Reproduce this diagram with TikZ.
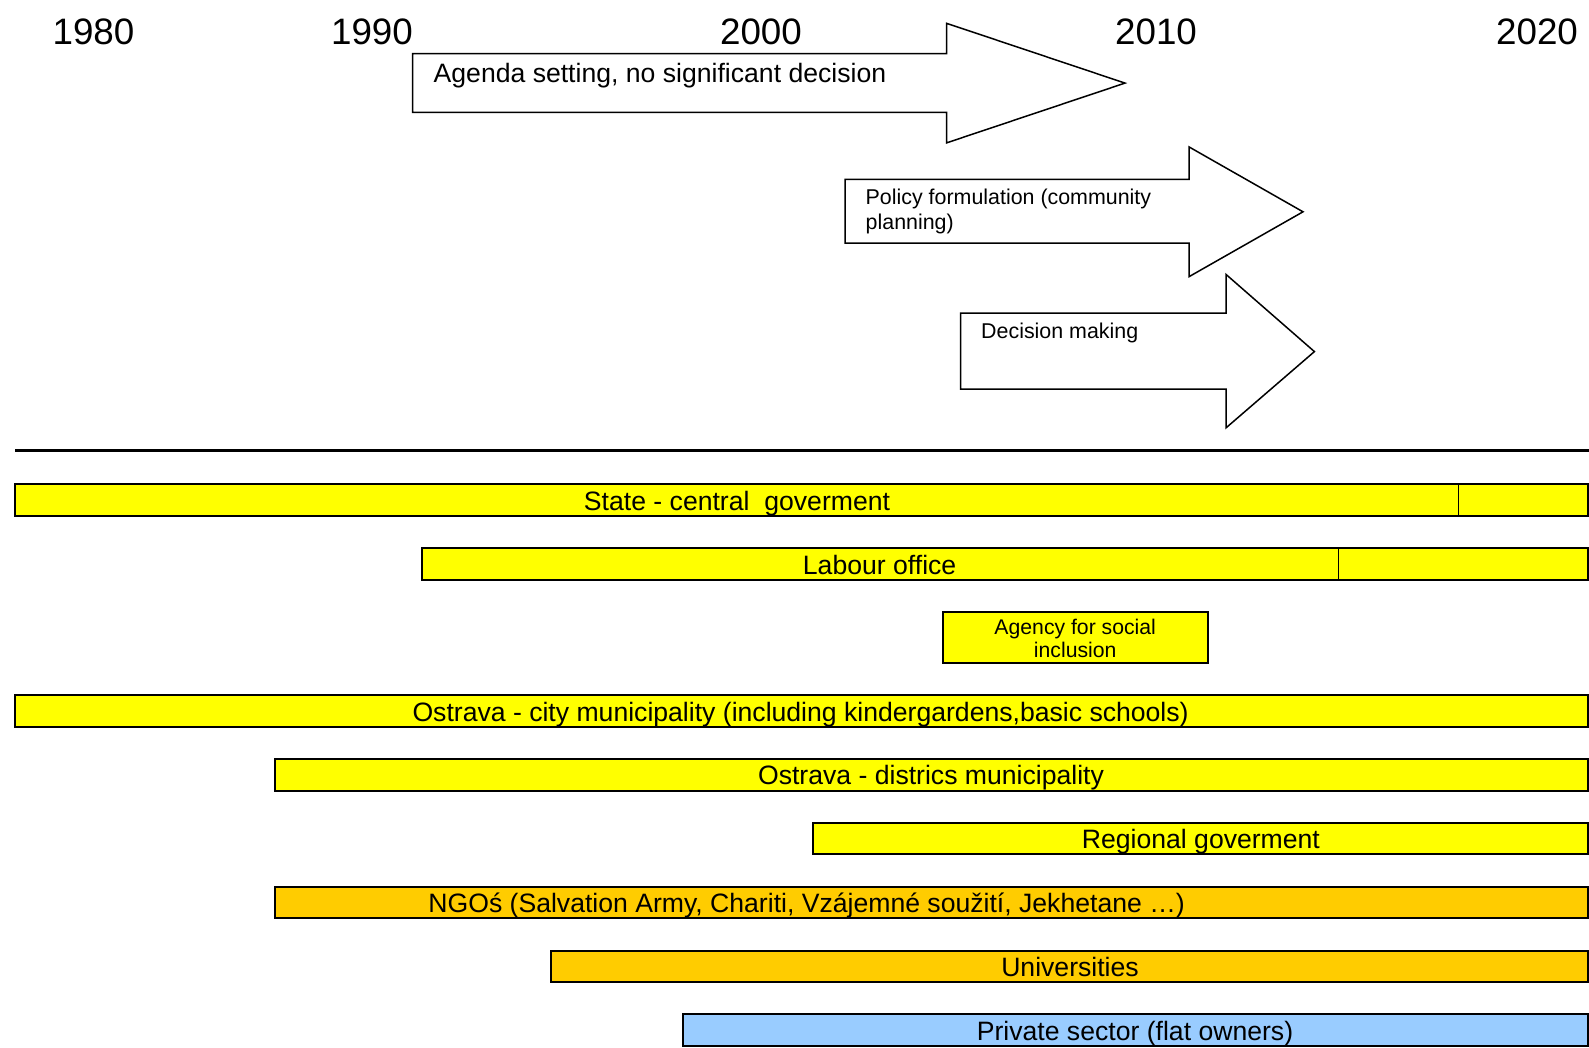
\documentclass[tikz,border=0pt]{standalone}
\usepackage{fontspec}
\setmainfont{Liberation Sans}
\definecolor{baryellow}{HTML}{FFFF00}
\definecolor{barorange}{HTML}{FFCC00}
\definecolor{barblue}{HTML}{99CCFF}
\tikzset{
  yearlbl/.style={anchor=base, inner sep=0pt, font=\fontsize{36.8}{43}\selectfont},
  bigarrow/.style={draw=black, line width=1.5pt, fill=white, line join=miter},
  arrowtxt/.style={anchor=base west, inner sep=0pt, align=left},
  barbox/.style={draw=black, line width=2pt},
  bartxt/.style={anchor=base, inner sep=0pt, font=\fontsize{26.6}{30}\selectfont},
}
\begin{document}
\begin{tikzpicture}[x=1pt, y=-1pt]
\useasboundingbox (0,0) rectangle (1589,1048);
% years
\node[yearlbl] (y1980) at (93.5,45) {1980};
\node[yearlbl] (y1990) at (372,45) {1990};
\node[yearlbl] (y2000) at (761,45) {2000};
\node[yearlbl] (y2010) at (1156,45) {2010};
\node[yearlbl] (y2020) at (1537,45) {2020};
% arrows
\draw[bigarrow] (412.5,53.7) -- (946.5,53.7) -- (946.5,23.3) -- (1125,83.1) -- (946.5,142.9) -- (946.5,112.5) -- (412.5,112.5) -- cycle;
\node[arrowtxt, font=\fontsize{26.6}{30}\selectfont] (agenda) at (433.5,83) {Agenda setting, no significant decision};
\draw[bigarrow] (845,179.4) -- (1189,179.4) -- (1189,146.9) -- (1303,211.8) -- (1189,276.7) -- (1189,243.2) -- (845,243.2) -- cycle;
\node[arrowtxt, font=\fontsize{21.4}{24.5}\selectfont, anchor=north west, text depth=0pt] (policy) at (865.5,189) {Policy formulation (community\\planning)};
\draw[bigarrow] (960.7,313.1) -- (1226.2,313.1) -- (1226.2,274.6) -- (1314.4,351.6) -- (1226.2,427.7) -- (1226.2,389.1) -- (960.7,389.1) -- cycle;
\node[arrowtxt, font=\fontsize{21.4}{24.5}\selectfont] (decision) at (981,338.5) {Decision making};
% separator
\draw[line width=3pt] (15,450) -- (1589,450);
% bars
\draw[barbox, fill=baryellow] (15.2,484.4) rectangle (1588,515.8);
\draw[line width=1.5pt] (1458.3,484.4) -- (1458.3,515.8);
\node[bartxt] (state) at (737,510.2) {State - central \ goverment};
\draw[barbox, fill=baryellow] (421.6,548.2) rectangle (1588,579.7);
\draw[line width=1.5pt] (1338.7,548.2) -- (1338.7,579.7);
\node[bartxt] (labour) at (879.6,574) {Labour office};
\draw[barbox, fill=baryellow] (942.5,612) rectangle (1208,662.8);
\node[anchor=center, inner sep=0pt, align=center, font=\fontsize{21.2}{23.6}\selectfont] (agency) at (1075.2,638.3) {Agency for social\\inclusion};
\draw[barbox, fill=baryellow] (15.2,695.2) rectangle (1588,726.6);
\node[bartxt] (city) at (800.6,721) {Ostrava - city municipality (including kindergardens,basic schools)};
\draw[barbox, fill=baryellow] (274.6,759) rectangle (1588,790.5);
\node[bartxt] (districts) at (931,784.8) {Ostrava - districs municipality};
\draw[barbox, fill=baryellow] (812.7,822.9) rectangle (1588,854.3);
\node[bartxt] (regional) at (1200.9,848.7) {Regional goverment};
\draw[barbox, fill=barorange] (274.6,886.7) rectangle (1588,918.1);
\node[bartxt] (ngos) at (806.6,912.5) {NGOś (Salvation Army, Chariti, Vzájemné soužití, Jekhetane …)};
\draw[barbox, fill=barorange] (551.3,950.6) rectangle (1588,982);
\node[bartxt] (univ) at (1070,976.4) {Universities};
\draw[barbox, fill=barblue] (683,1014.4) rectangle (1588,1045.8);
\node[bartxt] (private) at (1135,1040.2) {Private sector (flat owners)};
\end{tikzpicture}
\end{document}
